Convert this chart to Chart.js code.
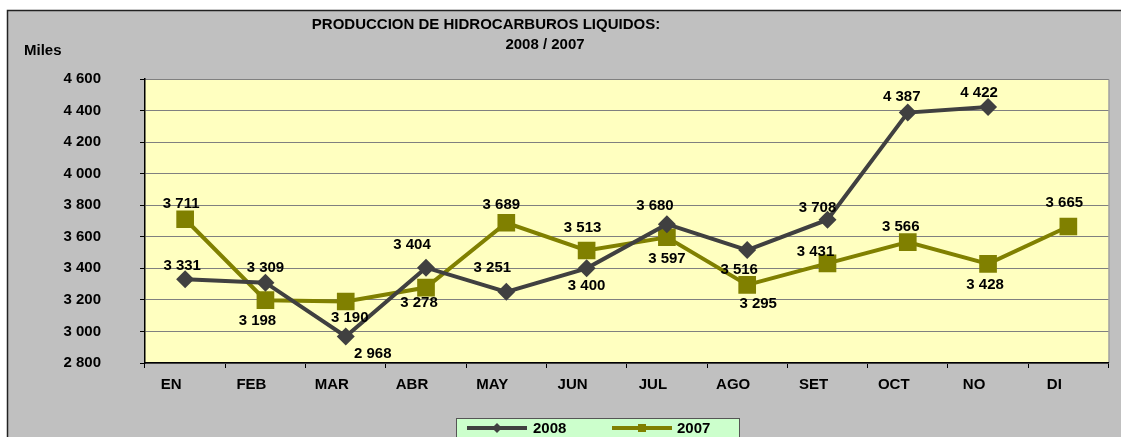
<!DOCTYPE html>
<html>
<head>
<meta charset="utf-8">
<script src="https://cdn.jsdelivr.net/npm/chart.js@4/dist/chart.umd.min.js"></script>
<style>
  html, body { margin: 0; padding: 0; background: #fff; overflow: hidden; }
  canvas { display: block; }
</style>
</head>
<body>
<canvas id="chart" width="1121" height="437"></canvas>
<script>
// data
const months = ['EN', 'FEB', 'MAR', 'ABR', 'MAY', 'JUN', 'JUL', 'AGO', 'SET', 'OCT', 'NO', 'DI'];
const prod2008 = [3331, 3309, 2968, 3404, 3251, 3400, 3680, 3516, 3708, 4387, 4422, null];
const prod2007 = [3711, 3198, 3190, 3278, 3689, 3513, 3597, 3295, 3431, 3566, 3428, 3665];
const yTicks = [2800, 3000, 3200, 3400, 3600, 3800, 4000, 4200, 4400, 4600];

// where each value label sits relative to its point (px)
const labelOff2008 = [[-3, -13], [0, -15], [27, 17], [-14, -23], [-14, -24], [0, 18], [-12, -18], [-8, 20], [-10, -12], [-6, -16], [-9, -14], [0, 0]];
const labelOff2007 = [[-4, -15], [-8, 21], [4, 16], [-7, 15], [-5, -18], [-4, -23], [0, 22], [11, 19], [-12, -12], [-7, -15], [-3, 21], [-4, -24]];

const C2008 = '#404040';
const C2007 = '#808000';
const FONT = 'Arial, "Liberation Sans", sans-serif';

const fmt = v => String(v).replace(/\B(?=(\d{3})+(?!\d))/g, ' ');

const frame = {
    id: 'frame',
    beforeDraw(chart) {
        const ctx = chart.ctx;
        const a = chart.chartArea;
        ctx.save();
        ctx.fillStyle = '#fff';
        ctx.fillRect(0, 0, chart.width, chart.height);
        ctx.fillStyle = '#C0C0C0';
        ctx.fillRect(7, 10, chart.width - 7, chart.height - 10);
        ctx.strokeStyle = '#222';
        ctx.lineWidth = 1.5;
        ctx.beginPath();
        ctx.moveTo(7.5, chart.height);
        ctx.lineTo(7.5, 10.5);
        ctx.lineTo(chart.width, 10.5);
        ctx.stroke();
        ctx.fillStyle = '#FFFFC0';
        ctx.fillRect(a.left, a.top, a.right - a.left, a.bottom - a.top);
        ctx.strokeStyle = '#909090';
        ctx.lineWidth = 1;
        ctx.beginPath();
        ctx.moveTo(a.left, a.top + 0.5);
        ctx.lineTo(a.right + 0.5, a.top + 0.5);
        ctx.lineTo(a.right + 0.5, a.bottom);
        ctx.stroke();

        ctx.fillStyle = '#000';
        ctx.textBaseline = 'middle';
        ctx.textAlign = 'center';
        ctx.font = 'bold 15px ' + FONT;
        ctx.fillText('PRODUCCION DE HIDROCARBUROS LIQUIDOS:', 486, 25);
        ctx.fillText('2008 / 2007', 545, 45);
        ctx.textAlign = 'left';
        ctx.fillText('Miles', 24, 51);
        ctx.restore();
    },
    afterDraw(chart) {
        const ctx = chart.ctx;
        ctx.save();
        // legend box
        ctx.fillStyle = '#CCFFCC';
        ctx.fillRect(456, 418, 283, 25);
        ctx.strokeStyle = '#555';
        ctx.lineWidth = 1;
        ctx.strokeRect(456.5, 418.5, 283, 25);
        const ly = 428;
        ctx.lineWidth = 4;
        ctx.strokeStyle = C2008;
        ctx.beginPath(); ctx.moveTo(467, ly); ctx.lineTo(527, ly); ctx.stroke();
        ctx.fillStyle = C2008;
        ctx.beginPath();
        ctx.moveTo(497, ly - 5); ctx.lineTo(502, ly); ctx.lineTo(497, ly + 5); ctx.lineTo(492, ly);
        ctx.closePath(); ctx.fill();
        ctx.strokeStyle = C2007;
        ctx.beginPath(); ctx.moveTo(612, ly); ctx.lineTo(672, ly); ctx.stroke();
        ctx.fillStyle = C2007;
        ctx.fillRect(638, ly - 4, 8, 8);
        ctx.fillStyle = '#000';
        ctx.font = 'bold 15px ' + FONT;
        ctx.textBaseline = 'middle';
        ctx.textAlign = 'left';
        ctx.fillText('2008', 533, ly + 1);
        ctx.fillText('2007', 677, ly + 1);
        ctx.restore();
    }
};

const valueLabels = {
    id: 'valueLabels',
    afterDatasetsDraw(chart) {
        const ctx = chart.ctx;
        const offs = [labelOff2008, labelOff2007];
        ctx.save();
        ctx.fillStyle = '#000';
        ctx.font = 'bold 15px ' + FONT;
        ctx.textAlign = 'center';
        ctx.textBaseline = 'middle';
        chart.data.datasets.forEach((ds, di) => {
            const meta = chart.getDatasetMeta(di);
            meta.data.forEach((pt, i) => {
                const v = ds.data[i];
                if (v == null) return;
                const o = offs[di][i];
                ctx.fillText(fmt(v), pt.x + o[0], pt.y + o[1]);
            });
        });
        ctx.restore();
    }
};

new Chart(document.getElementById('chart'), {
    type: 'line',
    data: {
        labels: months,
        datasets: [
            {
                label: '2008',
                data: prod2008,
                borderColor: C2008,
                backgroundColor: C2008,
                borderWidth: 4,
                pointStyle: 'rectRot',
                pointRadius: 9,
                pointBorderWidth: 0,
                tension: 0,
            },
            {
                label: '2007',
                data: prod2007,
                borderColor: C2007,
                backgroundColor: C2007,
                borderWidth: 4,
                pointStyle: 'rect',
                pointRadius: 12.5,
                pointBorderWidth: 0,
                tension: 0,
            },
        ],
    },
    options: {
        responsive: false,
        animation: false,
        events: [],
        layout: {
            padding: { left: 0, top: 79, right: 10, bottom: 0 },
        },
        plugins: {
            legend: { display: false },
            title: { display: false },
            tooltip: { enabled: false },
        },
        scales: {
            x: {
                offset: true,
                afterFit: s => { s.height = 74; },
                grid: {
                    offset: true,
                    drawOnChartArea: false,
                    tickLength: 5,
                    tickColor: '#000',
                },
                border: { color: '#000', width: 1.5 },
                ticks: {
                    color: '#000',
                    font: { family: FONT, size: 15, weight: 'bold' },
                    padding: 8,
                    labelOffset: -14,
                    maxRotation: 0,
                    autoSkip: false,
                },
            },
            y: {
                min: yTicks[0],
                max: yTicks[yTicks.length - 1],
                afterFit: s => { s.width = 145; },
                afterBuildTicks: s => { s.ticks = yTicks.map(v => ({ value: v })); },
                grid: {
                    color: '#808080',
                    tickColor: '#000',
                    tickLength: 5,
                },
                border: { color: '#000', width: 1.5 },
                ticks: {
                    color: '#000',
                    font: { family: FONT, size: 15, weight: 'bold' },
                    padding: 39,
                    callback: v => fmt(v),
                },
            },
        },
    },
    plugins: [frame, valueLabels],
});
</script>
</body>
</html>
